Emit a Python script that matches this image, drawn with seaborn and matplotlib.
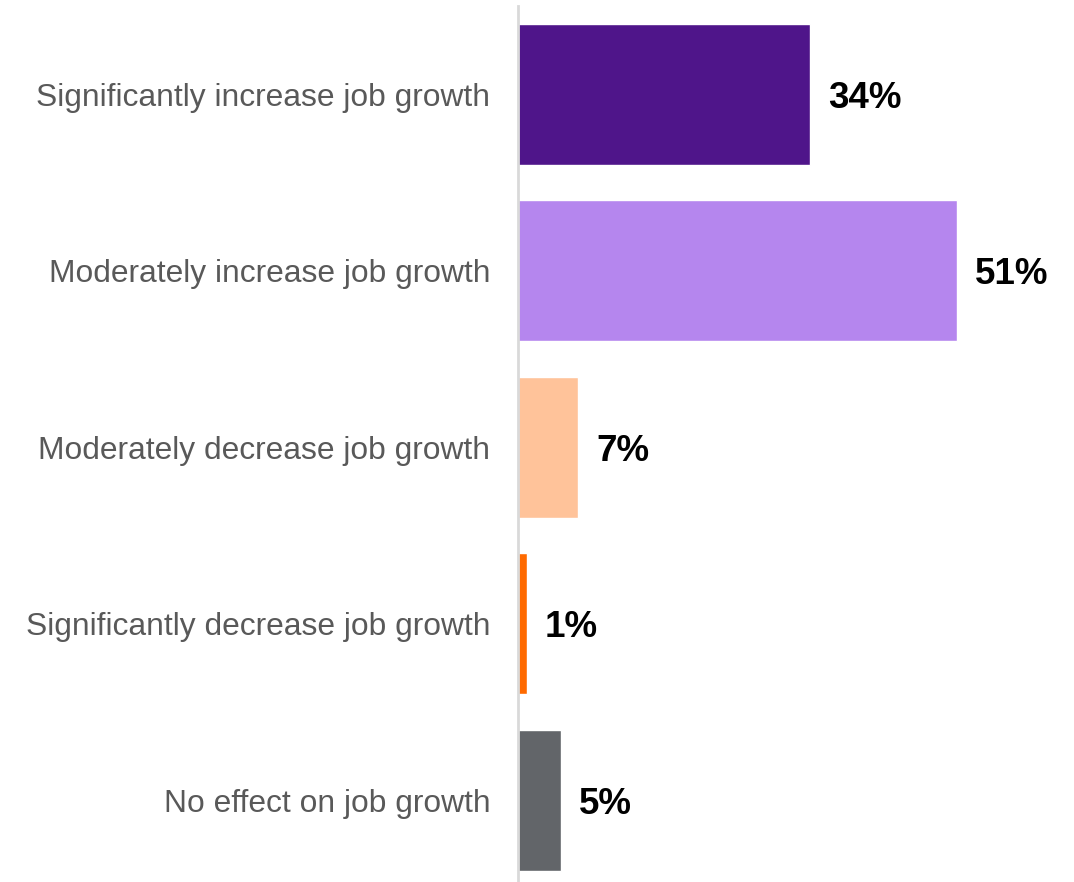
import matplotlib
matplotlib.use("Agg")
import matplotlib.pyplot as plt
import seaborn as sns
import pandas as pd

categories = [
    "Significantly increase job growth",
    "Moderately increase job growth",
    "Moderately decrease job growth",
    "Significantly decrease job growth",
    "No effect on job growth",
]
values = [34, 51, 7, 1, 5]
colors = ["#4f158a", "#b586ee", "#ffc39a", "#ff6a00", "#626569"]

sns.set_theme(style="white")
plt.rcParams["font.family"] = ["Liberation Sans", "DejaVu Sans"]

df = pd.DataFrame({"category": categories, "value": values})

fig = plt.figure(figsize=(10.74, 8.82), dpi=100)
ax = fig.add_axes([518 / 1074, -0.0075, 516 / 1074, 882.5 / 882])

sns.barplot(data=df, x="value", y="category", hue="category",
            palette=colors, orient="h", width=0.8, legend=False,
            saturation=1, ax=ax)

ax.set_xlim(0, 60)
ax.set_ylim(4.5, -0.5)
ax.set_xlabel("")
ax.set_ylabel("")
ax.set_xticks([])
ax.tick_params(axis="y", length=0, pad=20, labelsize=22.9, labelcolor="#595959")

for side in ("top", "right", "bottom"):
    ax.spines[side].set_visible(False)
ax.spines["left"].set_color("#d9d9d9")
ax.spines["left"].set_linewidth(2)

for i, v in enumerate(values):
    ax.annotate(f"{v}%", xy=(v, i), xytext=(13, 0), textcoords="offset points",
                ha="left", va="center_baseline", fontsize=26.5,
                fontweight="bold", color="black")

fig.savefig("out.png", dpi=100)
